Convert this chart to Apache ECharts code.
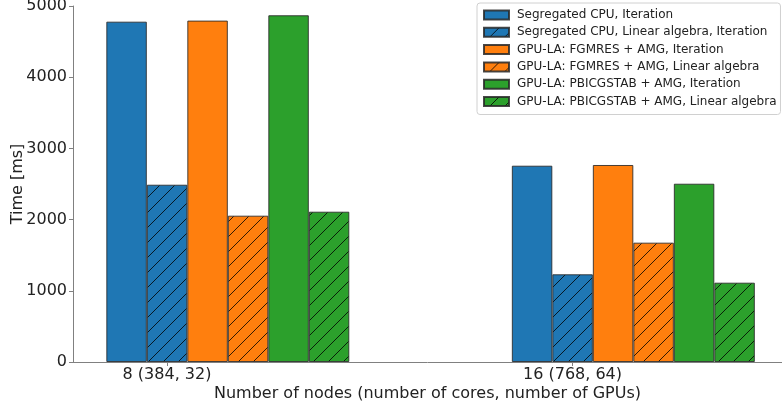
<!DOCTYPE html>
<html>
<head>
<meta charset="utf-8">
<script src="https://cdn.jsdelivr.net/npm/echarts@6/dist/echarts.min.js"></script>
<style>
  html, body { margin: 0; padding: 0; background: #fff; }
  #chart { width: 782px; height: 407px; }
</style>
</head>
<body>
<div id="chart"></div>
<script>
// ---- data ----
const categories = ['8 (384, 32)', '16 (768, 64)'];
const tickPositions = [0, 1];
const yTicks = [0, 1000, 2000, 3000, 4000, 5000];
const seriesNames = [
  'Segregated CPU, Iteration',
  'Segregated CPU, Linear algebra, Iteration',
  'GPU-LA: FGMRES + AMG, Iteration',
  'GPU-LA: FGMRES + AMG, Linear algebra',
  'GPU-LA: PBICGSTAB + AMG, Iteration',
  'GPU-LA: PBICGSTAB + AMG, Linear algebra'
];
const segregatedIter = [4780, 2757];
const segregatedLA = [2490, 1232];
const fgmresIter = [4795, 2767];
const fgmresLA = [2055, 1676];
const pbicgstabIter = [4870, 2504];
const pbicgstabLA = [2111, 1114];

const seriesValues = [segregatedIter, segregatedLA, fgmresIter, fgmresLA, pbicgstabIter, pbicgstabLA];
const seriesColors = ['#1f77b4', '#1f77b4', '#ff7f0e', '#ff7f0e', '#2ca02c', '#2ca02c'];
const seriesHatched = [false, true, false, true, false, true];

// ---- styling helpers ----
function hatch(color) {
  const s = 15;
  const c = document.createElement('canvas');
  c.width = s; c.height = s;
  const g = c.getContext('2d');
  g.fillStyle = color;
  g.fillRect(0, 0, s, s);
  g.strokeStyle = 'rgba(0,0,0,0.8)';
  g.lineWidth = 1;
  g.beginPath();
  g.moveTo(-2, s + 2); g.lineTo(s + 2, -2);
  g.moveTo(-2, 2); g.lineTo(2, -2);
  g.moveTo(s - 2, s + 2); g.lineTo(s + 2, s - 2);
  g.stroke();
  return { image: c, repeat: 'repeat' };
}

const groupOffset = 0.15; // group centre relative to tick position (in axis units)
const font = 'DejaVu Sans';

const series = seriesNames.map((name, i) => ({
  name: name,
  type: 'bar',
  barWidth: 40.5,
  barGap: '0%',
  data: seriesValues[i].map((v, k) => [tickPositions[k] + groupOffset, v]),
  itemStyle: {
    color: seriesHatched[i] ? hatch(seriesColors[i]) : seriesColors[i],
    borderColor: 'rgba(40,40,40,0.85)',
    borderWidth: 1
  },
  emphasis: { disabled: true }
}));

const chart = echarts.init(document.getElementById('chart'), null, { renderer: 'canvas' });
chart.setOption({
  animation: false,
  textStyle: { fontFamily: font },
  grid: { left: 73, right: 0, top: 6, bottom: 45, containLabel: false, outerBoundsMode: 'none' },
  legend: {
    orient: 'vertical',
    left: 477,
    top: 3,
    padding: [5, 4, 6, 6],
    icon: 'rect',
    itemWidth: 25,
    itemHeight: 9,
    itemGap: 3.3,
    backgroundColor: 'rgba(255,255,255,0.85)',
    borderColor: '#d0d0d0',
    borderWidth: 1,
    borderRadius: 3,
    textStyle: { fontFamily: font, fontSize: 12, color: '#222', lineHeight: 14, padding: [0, 0, 0, 3] },
    data: seriesNames
  },
  xAxis: {
    type: 'value',
    min: -0.2318,
    max: 1.5166,
    name: 'Number of nodes (number of cores, number of GPUs)',
    nameLocation: 'middle',
    nameGap: 24,
    nameMoveOverlap: false,
    nameTextStyle: { fontFamily: font, fontSize: 16, color: '#222', verticalAlign: 'top' },
    axisLine: { show: true, onZero: false, lineStyle: { color: '#808080', width: 1 } },
    axisTick: { show: true, length: 4, customValues: tickPositions, lineStyle: { color: '#808080' } },
    axisLabel: {
      customValues: tickPositions,
      formatter: (v) => categories[tickPositions.indexOf(Math.round(v))] || '',
      fontFamily: font, fontSize: 16, color: '#222', margin: 5
    },
    splitLine: { show: false }
  },
  yAxis: {
    type: 'value',
    min: yTicks[0],
    max: yTicks[yTicks.length - 1],
    interval: 1000,
    name: 'Time [ms]',
    nameLocation: 'middle',
    nameGap: 47,
    nameMoveOverlap: false,
    nameTextStyle: { fontFamily: font, fontSize: 16, color: '#222' },
    axisLine: { show: true, onZero: false, lineStyle: { color: '#808080', width: 1 } },
    axisTick: { show: true, length: 4, lineStyle: { color: '#808080' } },
    axisLabel: { fontFamily: font, fontSize: 16, color: '#222', margin: 6, formatter: (v) => String(v) },
    splitLine: { show: false }
  },
  series: series
});
</script>
</body>
</html>
